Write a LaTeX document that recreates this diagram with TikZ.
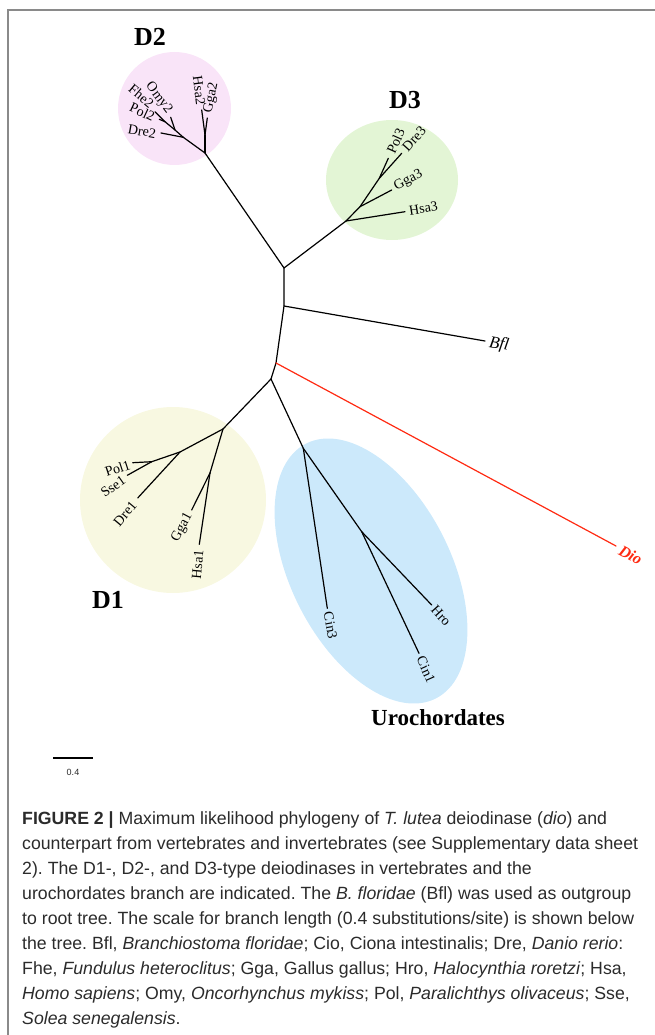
\documentclass[tikz,border=0pt]{standalone}
\usepackage{fontspec}
\setmainfont{Liberation Serif}
\newfontfamily\capfont{Liberation Sans}
\newfontfamily\barfont{Liberation Sans}
\definecolor{pinkbg}{HTML}{F9E4F8}
\definecolor{greenbg}{HTML}{E3F5D5}
\definecolor{yellowbg}{HTML}{F8F8E1}
\definecolor{bluebg}{HTML}{CCE9FB}
\definecolor{diored}{HTML}{FF2A12}
\definecolor{capgray}{HTML}{2B2B2B}
\definecolor{framegray}{HTML}{8A8A8A}
\frenchspacing
\begin{document}
\begin{tikzpicture}[x=1pt,y=-1pt,
  br/.style={line width=1.2pt, line cap=round},
  lab/.style={font=\fontsize{14}{14}\selectfont, inner sep=1pt},
  grp/.style={font=\fontsize{26}{26}\selectfont\bfseries, inner sep=0pt},
  capline/.style={anchor=base west, inner sep=0pt, text=capgray, font=\capfont\fontsize{17.7}{17.7}\selectfont}]
\useasboundingbox (0,0) rectangle (655,1035);
% frame
\draw[framegray, line width=1.5pt] (8,1035) -- (8,10) -- (655,10);
% backgrounds
\fill[pinkbg] (174.5,108.5) circle (56.5);
\fill[greenbg] (392,180) ellipse (66 and 60);
\fill[yellowbg] (173,500) circle (93);
\fill[bluebg, rotate around={-63:(371,571)}] (371,571) ellipse (143 and 80);
% internal nodes
\coordinate (A) at (284,268);
\coordinate (B) at (284,306);
\coordinate (C) at (276,363);
\coordinate (Dn) at (271,379);
\coordinate (d2) at (205,153);
\coordinate (d2a) at (183.3,137.3);
\coordinate (d2b) at (175,130);
\coordinate (d2c) at (165,121.7);
\coordinate (d2h) at (205,135);
\coordinate (d3) at (346,221);
\coordinate (d3a) at (360,206.7);
\coordinate (d3b) at (379.3,178.3);
\coordinate (d1) at (223,429);
\coordinate (d1a) at (180,452);
\coordinate (d1b) at (151.7,461.7);
\coordinate (d1c) at (210,473);
\coordinate (u1) at (303.3,448.3);
\coordinate (u2) at (361.7,531.7);
% leaves
\coordinate (lDre2) at (161,133);
\coordinate (lPol2) at (159.3,119.3);
\coordinate (lFhe2) at (155,111.7);
\coordinate (lOmy2) at (170.7,117.3);
\coordinate (lHsa2) at (201.7,110);
\coordinate (lGga2) at (207.3,118);
\coordinate (lPol3) at (388.3,158.3);
\coordinate (lDre3) at (401.7,153.3);
\coordinate (lGga3) at (391.7,190);
\coordinate (lHsa3) at (405,211.7);
\coordinate (lBfl) at (485,341);
\coordinate (lDio) at (616,546);
\coordinate (lPol1) at (132.7,462.7);
\coordinate (lSse1) at (127.3,475.3);
\coordinate (lDre1) at (137.7,498);
\coordinate (lGga1) at (191.7,510);
\coordinate (lHsa1) at (199.3,544.3);
\coordinate (lCin3) at (327.3,608.3);
\coordinate (lHro) at (431.7,605);
\coordinate (lCin1) at (419,653.3);
% branches
\draw[br] (A) -- (B) -- (C) -- (Dn);
\draw[br] (A) -- (d2);
\draw[br] (A) -- (d3);
\draw[br] (B) -- (lBfl);
\draw[br, diored] (C) -- (lDio);
\draw[br] (Dn) -- (d1);
\draw[br] (Dn) -- (u1);
% D2
\draw[br] (d2) -- (d2a) -- (d2b) -- (d2c);
\draw[br] (d2a) -- (lDre2);
\draw[br] (d2b) -- (lOmy2);
\draw[br] (d2c) -- (lPol2);
\draw[br] (d2c) -- (lFhe2);
\draw[br] (d2) -- (d2h);
\draw[br] (d2h) -- (lHsa2);
\draw[br] (d2h) -- (lGga2);
% D3
\draw[br] (d3) -- (lHsa3);
\draw[br] (d3) -- (d3a) -- (d3b);
\draw[br] (d3a) -- (lGga3);
\draw[br] (d3b) -- (lPol3);
\draw[br] (d3b) -- (lDre3);
% D1
\draw[br] (d1) -- (d1a) -- (d1b);
\draw[br] (d1b) -- (lPol1);
\draw[br] (d1b) -- (lSse1);
\draw[br] (d1a) -- (lDre1);
\draw[br] (d1) -- (d1c);
\draw[br] (d1c) -- (lGga1);
\draw[br] (d1c) -- (lHsa1);
% Urochordates
\draw[br] (u1) -- (lCin3);
\draw[br] (u1) -- (u2);
\draw[br] (u2) -- (lHro);
\draw[br] (u2) -- (lCin1);
% leaf labels
\node[lab, anchor=east, rotate=-10] (tDre2) at (157,134) {Dre2};
\node[lab, anchor=east, rotate=-25] (tPol2) at (155,118) {Pol2};
\node[lab, anchor=east, rotate=-40] (tFhe2) at (153,106) {Fhe2};
\node[lab, anchor=east, rotate=-53] (tOmy2) at (170,113) {Omy2};
\node[lab, anchor=east, rotate=-83] (tHsa2) at (201,106) {Hsa2};
\node[lab, anchor=west, rotate=78] (tGga2) at (208,114) {Gga2};
\node[lab, anchor=west, rotate=66] (tPol3) at (390,154) {Pol3};
\node[lab, anchor=west, rotate=48] (tDre3) at (404,150) {Dre3};
\node[lab, anchor=west, rotate=28] (tGga3) at (394,188) {Gga3};
\node[lab, anchor=west, rotate=9] (tHsa3) at (408,211) {Hsa3};
\node[anchor=west, rotate=-9, inner sep=1pt, font=\fontsize{17}{17}\selectfont\itshape] (tBfl) at (488,343) {Bfl};
\node[anchor=west, rotate=-28, inner sep=1pt, text=diored, font=\fontsize{16}{16}\selectfont\bfseries\itshape] (tDio) at (619,549) {Dio};
\node[lab, anchor=east, rotate=18] (tPol1) at (131,464) {Pol1};
\node[lab, anchor=east, rotate=35] (tSse1) at (125,478) {Sse1};
\node[lab, anchor=east, rotate=50] (tDre1) at (135,502) {Dre1};
\node[lab, anchor=east, rotate=62] (tGga1) at (190,513) {Gga1};
\node[lab, anchor=east, rotate=85] (tHsa1) at (199,549) {Hsa1};
\node[lab, anchor=west, rotate=-80] (tCin3) at (328,611) {Cin3};
\node[lab, anchor=west, rotate=-48] (tHro) at (433,607) {Hro};
\node[lab, anchor=west, rotate=-66] (tCin1) at (420,656) {Cin1};
% group labels
\node[grp] (gD2) at (150,37) {D2};
\node[grp] (gD3) at (405,100) {D3};
\node[grp] (gD1) at (108,600) {D1};
\node[grp, font=\fontsize{23}{23}\selectfont\bfseries] (gUro) at (438,718) {Urochordates};
% scale bar
\coordinate (sb1) at (53,758);
\coordinate (sb2) at (93,758);
\draw[line width=1.2pt] (sb1) -- (sb2);
\node[font=\barfont\fontsize{9}{9}\selectfont, text=capgray] (sbl) at (73,772) {0.4};
% caption
\node[capline] (c1) at (22,824) {\textbf{FIGURE 2 |} Maximum likelihood phylogeny of \textit{T. lutea} deiodinase (\textit{dio}) and};
\node[capline] (c2) at (22,849) {counterpart from vertebrates and invertebrates (see Supplementary data sheet};
\node[capline] (c3) at (22,874) {2). The D1-, D2-, and D3-type deiodinases in vertebrates and the};
\node[capline] (c4) at (22,899) {urochordates branch are indicated. The \textit{B. floridae} (Bfl) was used as outgroup};
\node[capline] (c5) at (22,924) {to root tree. The scale for branch length (0.4 substitutions/site) is shown below};
\node[capline] (c6) at (22,949) {the tree. Bfl, \textit{Branchiostoma floridae}; Cio, Ciona intestinalis; Dre, \textit{Danio rerio}:};
\node[capline] (c7) at (22,974) {Fhe, \textit{Fundulus heteroclitus}; Gga, Gallus gallus; Hro, \textit{Halocynthia roretzi}; Hsa,};
\node[capline] (c8) at (22,999) {\textit{Homo sapiens}; Omy, \textit{Oncorhynchus mykiss}; Pol, \textit{Paralichthys olivaceus}; Sse,};
\node[capline] (c9) at (22,1024) {\textit{Solea senegalensis}.};
\end{tikzpicture}
\end{document}
